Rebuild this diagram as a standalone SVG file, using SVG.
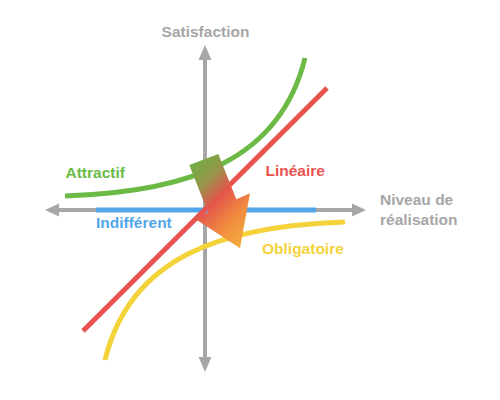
<svg xmlns="http://www.w3.org/2000/svg" width="500" height="400" viewBox="0 0 500 400">
<style>
.axis{stroke:#a6a6a6;stroke-width:4;fill:none}
.head{fill:#a6a6a6}
.curve{fill:none;stroke-width:5}
text{font-family:"Liberation Sans",Arial,Helvetica,sans-serif;font-weight:bold;font-size:15.5px}
</style>
<defs>
<linearGradient id="grad" gradientUnits="userSpaceOnUse" x1="180" y1="180" x2="250" y2="250">
<stop offset="0" stop-color="#76aa44"/>
<stop offset="0.2" stop-color="#96944a"/>
<stop offset="0.4" stop-color="#e4564c"/>
<stop offset="0.65" stop-color="#f08a40"/>
<stop offset="1" stop-color="#f5b83a"/>
</linearGradient>
</defs>
<rect width="500" height="400" fill="#ffffff"/>
<g id="axes">
<line class="axis" x1="205" y1="58" x2="205" y2="360"/>
<polygon class="head" points="205,45 198.5,60 211.5,60"/>
<polygon class="head" points="205,372 198.5,357 211.5,357"/>
<line class="axis" x1="56" y1="210" x2="355" y2="210"/>
<polygon class="head" points="45,210 59,203.5 59,216.5"/>
<polygon class="head" points="366,210 352,203.5 352,216.5"/>
</g>
<g id="connectors">
<line id="indifferent" class="curve" stroke="#52a6ea" x1="96" y1="210" x2="316" y2="210"/>
<path id="attractif" class="curve" stroke="#6cba46" d="M65,196 C190,192 280,160 305,58"/>
<line id="lineaire" class="curve" stroke="#e8534f" x1="83" y1="331" x2="327" y2="88"/>
<path id="obligatoire" class="curve" stroke="#f4d23a" d="M345,222 C220,226 130,258 105,360"/>
</g>
<g id="big-arrow">
<polygon fill="url(#grad)" points="189.3,165 218.3,154 236.3,199.3 250,193.3 240,248.3 194.3,218.3 208,212.3"/>
</g>
<g id="labels">
<text x="205.5" y="37" text-anchor="middle" fill="#a6a6a6">Satisfaction</text>
<text x="380" y="205" fill="#a6a6a6">Niveau de</text>
<text x="380" y="225" fill="#a6a6a6">réalisation</text>
<text x="65.5" y="177.5" fill="#6cba46">Attractif</text>
<text x="265.5" y="175.5" fill="#e8534f">Linéaire</text>
<text x="96" y="228" fill="#52a6ea">Indifférent</text>
<text x="262" y="254" fill="#f4d23a">Obligatoire</text>
</g>
</svg>
